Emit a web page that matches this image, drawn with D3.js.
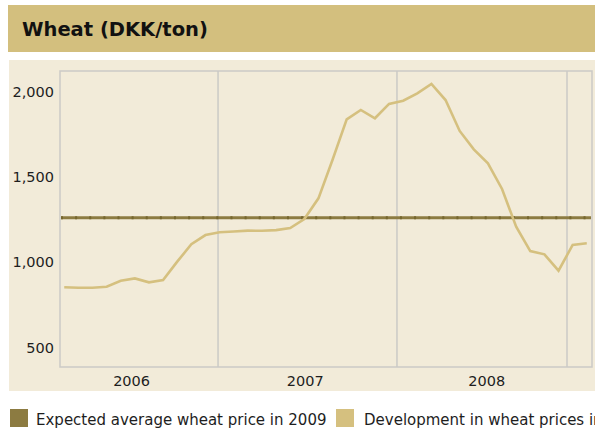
<!DOCTYPE html>
<html>
<head>
<meta charset="utf-8">
<script src="https://cdn.jsdelivr.net/npm/d3@7"></script>
<style>
  html, body { margin: 0; padding: 0; background: #fff; }
  svg { display: block; }
</style>
</head>
<body>
<div id="chart"></div>
<script>
// monthly wheat price, DKK/ton
const wheatPrices = [
  853, 850, 850, 856, 891, 905, 882, 895, 1003, 1105, 1159, 1175, 1180,
  1185, 1184, 1188, 1200, 1253, 1374, 1600, 1837, 1892, 1843, 1927, 1946,
  1989, 2044, 1950, 1769, 1661, 1579, 1429, 1208, 1065, 1046, 950, 1101, 1111,
];
const expectedPrice = 1260;

const yTicks = [500, 1000, 1500, 2000];
const years = ["2006", "2007", "2008"];
// positions on the month index axis
const yearLabelAt = [4.77, 17.07, 29.92];
const yearBreaks = [10.89, 23.56, 35.6];

const title = "Wheat (DKK/ton)";
const legendLabels = [
  "Expected average wheat price in 2009",
  "Development in wheat prices in DKK/ton",
];

const width = 595;
const height = 432;
const plot = { left: 60, right: 592, top: 71, bottom: 367 };
const colors = {
  band: "#d3bf7e",
  panel: "#f2ebd9",
  frame: "#cbcac6",
  wheat: "#d5c07f",
  expected: "#8c7b41",
  expectedTick: "#76672f",
  text: "#1e1e1e",
};

const svg = d3
  .select("#chart")
  .append("svg")
  .attr("width", width)
  .attr("height", height)
  .attr("viewBox", `0 0 ${width} ${height}`);

/** Header **/
svg.append("rect").attr("x", 8).attr("y", 5).attr("width", width - 8).attr("height", 47).attr("fill", colors.band);
svg
  .append("text")
  .attr("x", 22)
  .attr("y", 36)
  .attr("font-family", "DejaVu Sans, sans-serif")
  .attr("font-weight", "bold")
  .attr("font-size", 19.5)
  .attr("fill", "#111")
  .text(title);

svg.append("rect").attr("x", 9).attr("y", 60).attr("width", width - 9).attr("height", 331).attr("fill", colors.panel);

/** Scales **/
const xPad = 0.3;
const x = d3
  .scaleLinear()
  .domain([-xPad, wheatPrices.length - 1 + xPad + 0.07])
  .range([plot.left, plot.right]);

const y = d3.scaleLinear().domain([386, 2120]).range([plot.bottom, plot.top]);

/** Y - axis **/
svg
  .append("g")
  .attr("transform", `translate(${plot.left - 6}, 0)`)
  .call(
    d3
      .axisLeft(y)
      .tickValues(yTicks)
      .tickSize(0)
      .tickPadding(0)
      .tickFormat(d3.format(",")),
  )
  .call((g) => {
    g.select(".domain").remove();
    g.selectAll("text")
      .attr("font-family", "DejaVu Sans, sans-serif")
      .attr("font-size", 14.5)
      .attr("fill", colors.text);
  });

/** Frame and year lines **/
const frame = svg.append("g").attr("stroke", colors.frame).attr("stroke-width", 1.5).attr("fill", "none");
frame
  .append("rect")
  .attr("x", plot.left)
  .attr("y", plot.top)
  .attr("width", plot.right - plot.left)
  .attr("height", plot.bottom - plot.top);

frame
  .selectAll("line")
  .data(yearBreaks)
  .join("line")
  .attr("x1", (d) => x(d))
  .attr("x2", (d) => x(d))
  .attr("y1", plot.top)
  .attr("y2", plot.bottom);

/** X labels **/
svg
  .append("g")
  .attr("font-family", "DejaVu Sans, sans-serif")
  .attr("font-size", 14.5)
  .attr("fill", colors.text)
  .attr("text-anchor", "middle")
  .selectAll("text")
  .data(years)
  .join("text")
  .attr("x", (d, i) => x(yearLabelAt[i]))
  .attr("y", 386)
  .text((d) => d);

/** Expected price **/
const step = x(1) - x(0);
svg
  .append("line")
  .attr("x1", plot.left + 1)
  .attr("x2", plot.right - 1)
  .attr("y1", y(expectedPrice))
  .attr("y2", y(expectedPrice))
  .attr("stroke", colors.expected)
  .attr("stroke-width", 3);

svg
  .append("line")
  .attr("x1", plot.left + 1)
  .attr("x2", plot.right - 1)
  .attr("y1", y(expectedPrice))
  .attr("y2", y(expectedPrice))
  .attr("stroke", colors.expectedTick)
  .attr("stroke-width", 3)
  .attr("stroke-dasharray", `2 ${step - 2}`);

/** Wheat line **/
const line = d3
  .line()
  .x((d, i) => x(i))
  .y((d) => y(d));

svg
  .append("path")
  .datum(wheatPrices)
  .attr("d", line)
  .attr("fill", "none")
  .attr("stroke", colors.wheat)
  .attr("stroke-width", 2.6)
  .attr("stroke-linejoin", "miter");

/** Legend **/
const legend = svg
  .append("g")
  .attr("font-family", "DejaVu Sans, sans-serif")
  .attr("font-size", 15)
  .attr("fill", colors.text);

const legendX = [10, 336];
const legendTextX = [36, 364];
const legendColors = [colors.expected, colors.wheat];

legendLabels.forEach((label, i) => {
  legend
    .append("rect")
    .attr("x", legendX[i])
    .attr("y", 409)
    .attr("width", 18)
    .attr("height", 18)
    .attr("fill", legendColors[i]);
  legend
    .append("text")
    .attr("x", legendTextX[i])
    .attr("y", 425)
    .text(label);
});
</script>
</body>
</html>
